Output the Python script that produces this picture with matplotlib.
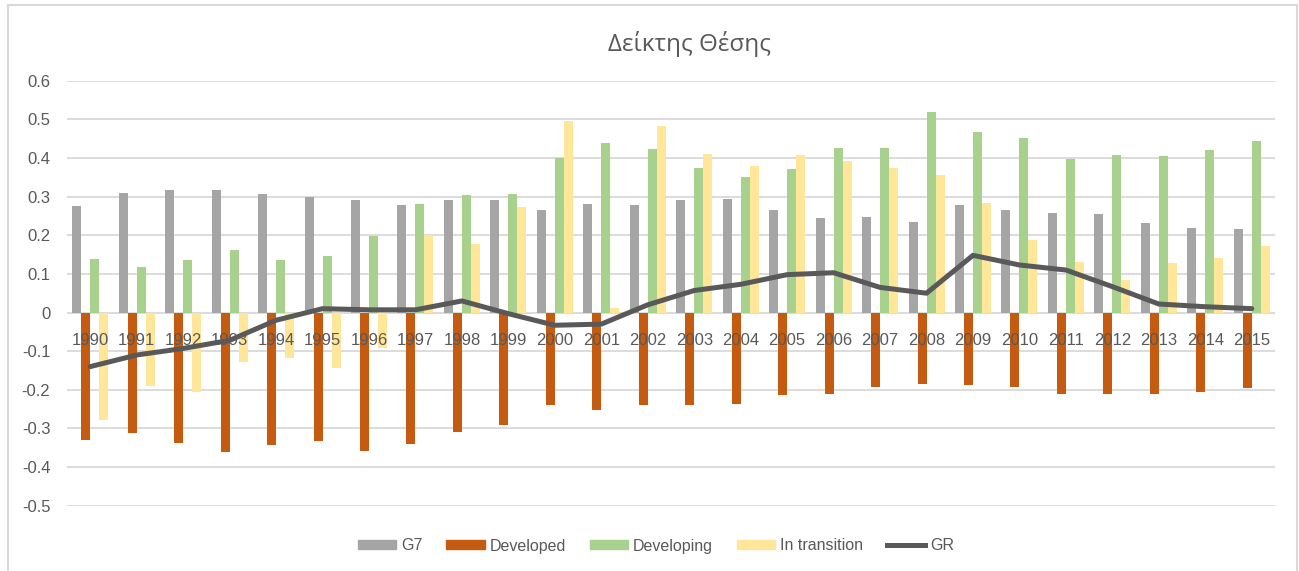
import matplotlib
matplotlib.use("Agg")
import matplotlib.pyplot as plt
import numpy as np
from matplotlib.lines import Line2D
from matplotlib.patches import Patch

years = [str(y) for y in range(1990, 2016)]
g7 = [0.275, 0.310, 0.318, 0.318, 0.307, 0.300, 0.290, 0.277, 0.292, 0.292,
      0.266, 0.282, 0.277, 0.292, 0.295, 0.266, 0.245, 0.248, 0.235, 0.278,
      0.266, 0.258, 0.256, 0.232, 0.220, 0.215]
developed = [-0.330, -0.312, -0.338, -0.360, -0.342, -0.333, -0.358, -0.340, -0.310, -0.290,
             -0.240, -0.253, -0.240, -0.240, -0.237, -0.214, -0.212, -0.193, -0.185, -0.188,
             -0.193, -0.210, -0.210, -0.212, -0.206, -0.195]
developing = [0.138, 0.118, 0.135, 0.163, 0.135, 0.145, 0.197, 0.282, 0.305, 0.307,
              0.400, 0.440, 0.422, 0.375, 0.352, 0.372, 0.425, 0.425, 0.518, 0.467,
              0.452, 0.398, 0.408, 0.405, 0.420, 0.445]
transition = [-0.278, -0.190, -0.205, -0.128, -0.118, -0.143, -0.092, 0.200, 0.178, 0.273,
              0.495, 0.012, 0.483, 0.410, 0.380, 0.408, 0.393, 0.375, 0.355, 0.283,
              0.188, 0.130, 0.084, 0.127, 0.140, 0.172]
gr = [-0.140, -0.110, -0.093, -0.072, -0.020, 0.010, 0.007, 0.007, 0.030, -0.003,
      -0.033, -0.030, 0.020, 0.057, 0.073, 0.098, 0.103, 0.065, 0.050, 0.148,
      0.123, 0.110, 0.067, 0.022, 0.015, 0.010]
series_names = ["G7", "Developed", "Developing", "In transition", "GR"]
yticks = [-0.5, -0.4, -0.3, -0.2, -0.1, 0, 0.1, 0.2, 0.3, 0.4, 0.5, 0.6]
ytick_labels = ["-0.5", "-0.4", "-0.3", "-0.2", "-0.1", "0", "0.1", "0.2", "0.3", "0.4", "0.5", "0.6"]
title = "Δείκτης Θέσης"

colors = ["#A5A5A5", "#C55A11", "#A9D18E", "#FFE699"]
line_color = "#595959"
text_color = "#595959"
grid_color = "#D9D9D9"

W, H = 1299, 571
fig = plt.figure(figsize=(W / 100, H / 100), dpi=100)
plt.rcParams['font.family'] = ['Liberation Sans', 'DejaVu Sans']

left, right = 67 / W, 1275 / W
top, bottom = 1 - 80.7 / H, 1 - 505.7 / H
ax = fig.add_axes([left, bottom, right - left, top - bottom])

x = np.arange(len(years))
w = 0.194
data = [g7, developed, developing, transition]
for yv in yticks:
    ax.axhline(yv, color=grid_color, lw=1.3, zorder=0)
for i, (vals, c) in enumerate(zip(data, colors)):
    ax.bar(x + (i - 1.5) * w, vals, width=w, color=c, zorder=2)
ax.plot(x, gr, color=line_color, lw=3.6, zorder=3, solid_capstyle='round', solid_joinstyle='round')

ax.set_xlim(-0.5, len(years) - 0.5)
ax.set_ylim(-0.5, 0.6)
ax.set_yticks(yticks)
ax.set_yticklabels(ytick_labels)
ax.set_axisbelow(False)
for s in ["top", "right", "left"]:
    ax.spines[s].set_visible(False)
ax.spines["bottom"].set_position(("data", 0))
ax.spines["bottom"].set_visible(False)
ax.set_xticks(x)
ax.set_xticklabels(years)
ax.tick_params(axis="x", length=0, pad=15, labelsize=12, labelcolor=text_color)
ax.tick_params(axis="y", length=0, pad=12, labelsize=12, labelcolor=text_color)

fig.text(690 / W, 1 - 44 / H, title, ha="center", va="center", fontsize=17.5,
         color=text_color, family=["Open Sans", "DejaVu Sans"])

handles = [Patch(color=c) for c in colors] + [Line2D([0], [0], color=line_color, lw=3.6)]
leg = fig.legend(handles, series_names, loc="center", bbox_to_anchor=(656 / W, 1 - 546 / H),
                 ncol=5, frameon=False, fontsize=11.5, handlelength=2.4, handleheight=0.5,
                 handletextpad=0.3, columnspacing=1.5, labelcolor=text_color)

# outer chart border
fig.add_artist(Line2D([8 / W, 8 / W], [0, 1 - 5 / H], color=grid_color, lw=1.5, transform=fig.transFigure))
fig.add_artist(Line2D([8 / W, 1297 / W], [1 - 5 / H, 1 - 5 / H], color=grid_color, lw=1.5, transform=fig.transFigure))
fig.add_artist(Line2D([1297 / W, 1297 / W], [0, 1 - 5 / H], color=grid_color, lw=1.5, transform=fig.transFigure))

fig.savefig("out.png", dpi=100, facecolor="white")
